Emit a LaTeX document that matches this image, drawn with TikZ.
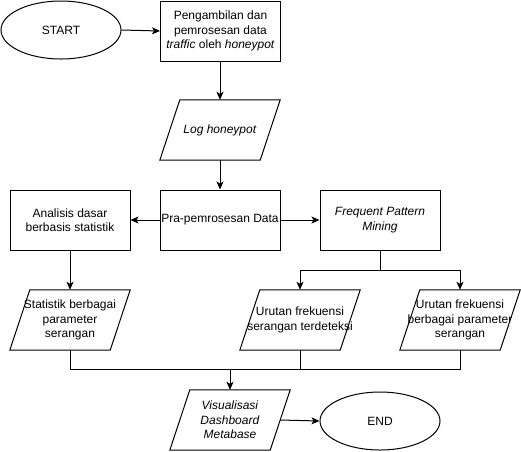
\documentclass[tikz,border=0pt]{standalone}
\usepackage{fontspec}
\setmainfont{Liberation Sans}
\usetikzlibrary{shapes.geometric,arrows.meta,calc}
\begin{document}
\begin{tikzpicture}[x=1pt,y=-1pt,
  every node/.style={font=\fontsize{12}{14.5}\selectfont, align=center, inner sep=0pt},
  line/.style={draw=black, line width=1pt},
  arr/.style={line, -{Stealth[length=8pt,width=7pt,inset=2pt]}},
  box/.style={draw=black, line width=1pt, minimum width=120pt, minimum height=60pt},
  paranode/.style={minimum width=120pt, minimum height=60pt},
  term/.style={ellipse, draw=black, line width=1pt, minimum width=120pt, minimum height=58pt}]
\useasboundingbox (0,0) rectangle (521,451);
\newcommand\drawpara[1]{\draw[line] (#1.south west) -- ($(#1.north west)+(20,0)$) -- (#1.north east) -- ($(#1.south east)+(-20,0)$) -- cycle;}
% nodes
\node[term] (start) at (61,30) {START};
\node[box] (p1) at (220.5,31) {Pengambilan dan\\pemrosesan data\\\textit{traffic} oleh \textit{honeypot}};
\node[paranode] (log) at (220,130) {\textit{Log honeypot}};
\node[box] (pra) at (220,220) {Pra-pemrosesan Data};
\node[box] (ana) at (70,220) {Analisis dasar\\berbasis statistik};
\node[box] (fpm) at (380,220) {\textit{Frequent Pattern}\\\textit{Mining}};
\node[paranode] (stat) at (70,320) {Statistik berbagai\\parameter\\serangan};
\node[paranode] (ur1) at (300,320) {Urutan frekuensi\\serangan terdeteksi};
\node[paranode] (ur2) at (460,320) {Urutan frekuensi\\berbagai parameter\\serangan};
\node[paranode] (vis) at (230,420) {\textit{Visualisasi}\\\textit{Dashboard}\\\textit{Metabase}};
\node[term] (end) at (380,421) {END};
\drawpara{log}
\drawpara{stat}
\drawpara{ur1}
\drawpara{ur2}
\drawpara{vis}
% coordinates
\coordinate (fj) at (380,270);
\coordinate (mj) at (230,369);
\coordinate (visr) at ($(vis.east)+(-10,0)$);
% connectors
\draw[arr] (start.east) -- (p1.west);
\draw[arr] (p1.south -| log.north) -- (log.north);
\draw[arr] (log.south) -- (pra.north);
\draw[arr] (pra.west) -- (ana.east);
\draw[arr] (pra.east) -- (fpm.west);
\draw[line] (fpm.south) -- (fj);
\draw[arr] (fj) -| (ur1.north);
\draw[arr] (fj) -| (ur2.north);
\draw[arr] (ana.south) -- (stat.north);
\draw[line] (stat.south) |- (mj);
\draw[line] (ur1.south) |- (mj);
\draw[line] (ur2.south) |- (mj);
\draw[arr] (mj) -- (vis.north);
\draw[arr] (visr) -- (end.west);
\end{tikzpicture}
\end{document}
